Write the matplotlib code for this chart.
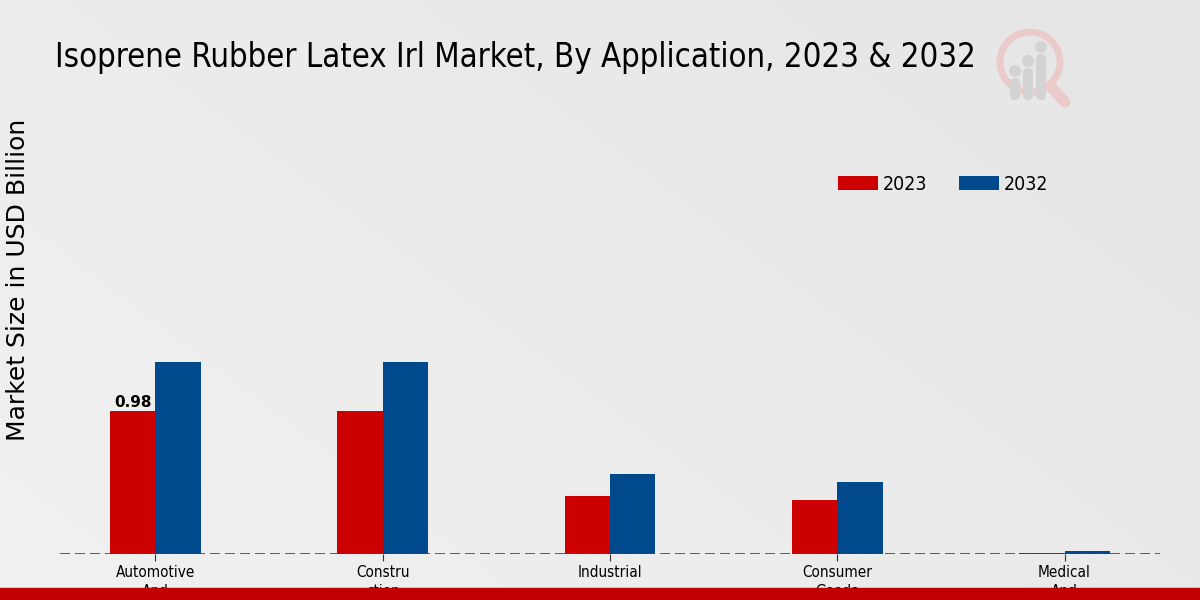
import numpy as np
import matplotlib.pyplot as plt
from matplotlib.patches import Circle, FancyBboxPatch, Rectangle

categories = ["Automotive\nAnd", "Constru\nction", "Industrial", "Consumer\nGoods", "Medical\nAnd"]
values_2023 = [0.98, 0.98, 0.40, 0.37, 0.01]
values_2032 = [1.315, 1.315, 0.55, 0.49, 0.02]
series = ["2023", "2032"]
colors = ["#cc0000", "#00498c"]

fig = plt.figure(figsize=(12, 6), dpi=100)

# background gradient
bg = fig.add_axes([0, 0, 1, 1], zorder=-10)
grad = np.linspace(0, 1, 256)
gx, gy = np.meshgrid(grad, grad)
shade = 0.945 - 0.045 * (0.6 * gx + 0.4 * (1 - gy))
bg.imshow(np.dstack([shade, shade, shade]), extent=[0, 1, 0, 1], aspect="auto", origin="upper")
bg.set_axis_off()

# bottom red strip
fig.patches.append(Rectangle((0, 0), 1, 12 / 600, transform=fig.transFigure, color="#c00000", zorder=5))

# faint logo
lg = fig.add_axes([990 / 1200, 1 - 110 / 600, 85 / 1200, 85 / 600])
lg.set_xlim(0, 85)
lg.set_ylim(0, 85)
lg.set_axis_off()
lg.add_patch(Circle((40, 48), 30, fill=False, ec="#ebcaca", lw=5))
lg.plot([60, 75], [24, 8], color="#ebcaca", lw=8, solid_capstyle="round")
for bx, bh in [(25, 22), (38, 32), (51, 46)]:
    lg.add_patch(FancyBboxPatch((bx - 5, 10), 10, bh, boxstyle="round,pad=0,rounding_size=5",
                                fc="#d3d3d3", ec="none"))
    lg.add_patch(Circle((bx, 10 + bh + 7), 6, fc="#d3d3d3", ec="none"))

ax = fig.add_axes([60 / 1200, 46 / 600, 1100 / 1200, 454 / 600])
ax.patch.set_alpha(0)
x = np.arange(len(categories))
w = 0.2
ax.bar(x - w / 2, values_2023, w, color=colors[0], label=series[0])
ax.bar(x + w / 2, values_2032, w, color=colors[1], label=series[1])
ax.text(x[0] - w / 2, values_2023[0] + 0.005, f"{values_2023[0]:.2f}", ha="center", va="bottom",
        fontsize=11, fontweight="bold")

ax.set_xlim(-0.42, 4.42)
ax.set_ylim(0, 3.11)
ax.axhline(0, color="#444444", lw=1.2, ls=(0, (6, 3)), zorder=3)
for s in ax.spines.values():
    s.set_visible(False)
ax.set_yticks([])
ax.set_xticks(x)
ax.set_xticklabels(categories, fontsize=11, fontstretch="condensed", linespacing=1.3)
ax.tick_params(axis="x", length=5, color="#333333", pad=3)

fig.text(18 / 1200, 1 - 280 / 600, "Market Size in USD Billion", rotation=90, fontsize=18,
         ha="center", va="center")

ax.legend(loc="center left", bbox_to_anchor=(778 / 1100, (554 - 184) / 454), ncol=2, frameon=False,
          prop={"size": 14, "stretch": "condensed"}, handlelength=2.06, handleheight=0.72,
          columnspacing=1.6, handletextpad=0.26, borderaxespad=0, borderpad=0)

fig.text(55 / 1200, 1 - 57 / 600, "Isoprene Rubber Latex Irl Market, By Application, 2023 & 2032",
         fontsize=23.6, fontstretch="condensed", va="center", ha="left")

fig.savefig("out.png", dpi=100)
